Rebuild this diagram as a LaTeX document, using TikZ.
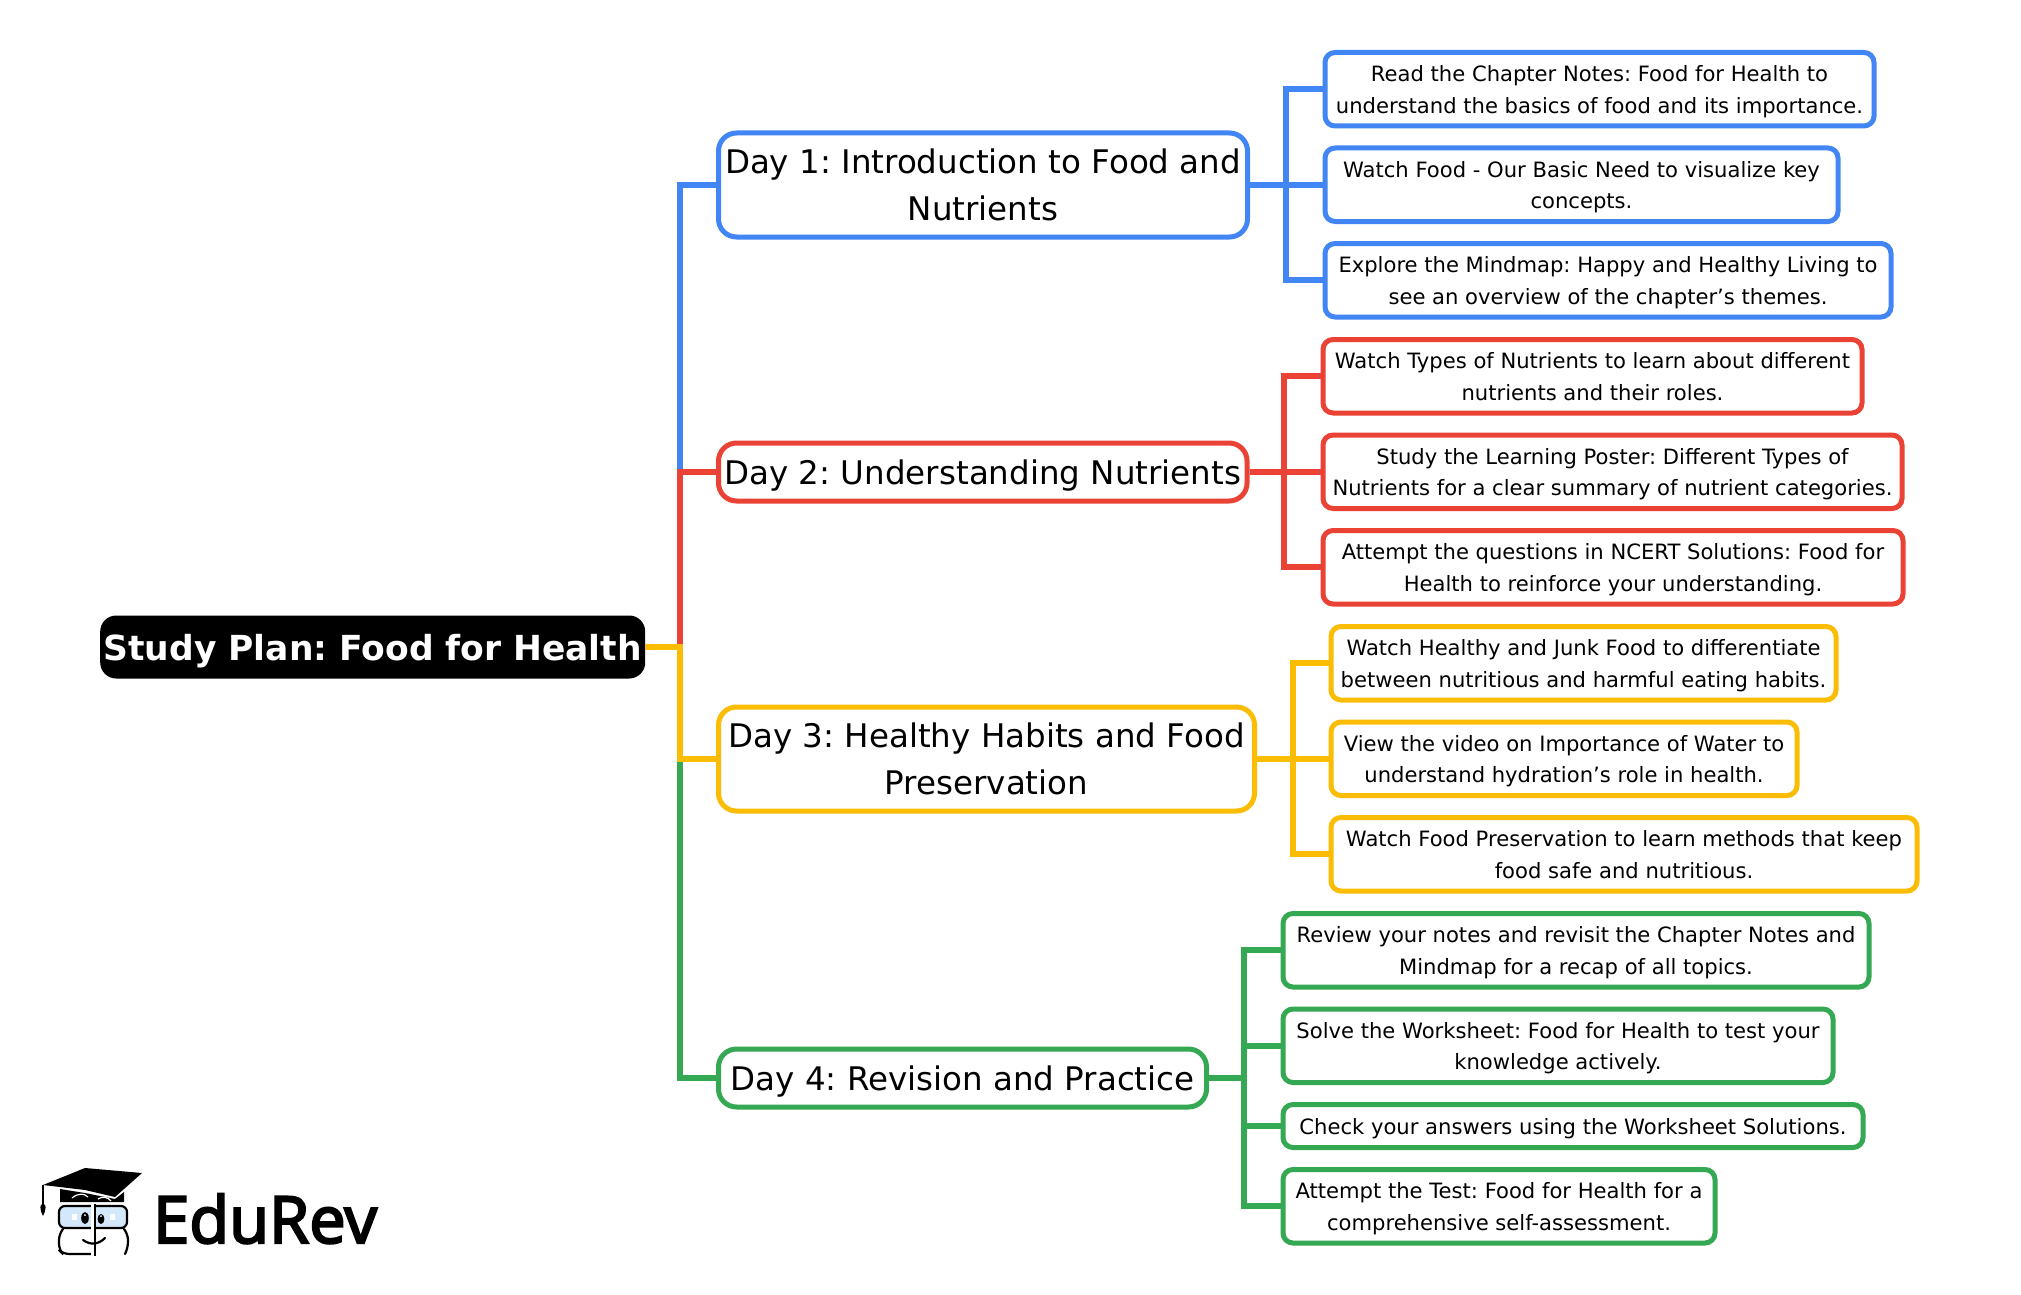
\documentclass[tikz,border=0pt]{standalone}
\usepackage{fontspec}
\setmainfont{DejaVu Sans}
\newfontfamily\logofont[FakeBold=3.4]{Open Sans}
\usetikzlibrary{positioning}
\definecolor{planblue}{HTML}{4285F4}
\definecolor{planred}{HTML}{EA4335}
\definecolor{planyellow}{HTML}{FBBC04}
\definecolor{plangreen}{HTML}{34A853}
\definecolor{logoblue}{HTML}{D3E8FA}
\tikzset{
  rootbox/.style={fill=black, text=white, rounded corners=16pt, inner xsep=2pt, inner ysep=0pt,
    minimum height=63pt, minimum width=545pt, text depth=0pt, anchor=west,
    font=\frenchspacing\fontsize{34.5}{40}\selectfont\bfseries},
  daybox/.style={draw=#1, fill=white, line width=5pt, rounded corners=18pt, inner xsep=6pt, inner ysep=0pt,
    align=center, anchor=west, minimum height=104pt, font=\frenchspacing\fontsize{32.5}{47}\selectfont},
  singleday/.style={minimum height=58pt, text depth=0pt},
  oneleaf/.style={draw=#1, fill=white, line width=5pt, rounded corners=10pt, inner xsep=6pt, inner ysep=0pt,
    align=center, minimum height=43pt, text depth=0pt, font=\frenchspacing\fontsize{21.1}{31.5}\selectfont},
  leafbox/.style={oneleaf=#1, minimum height=73.5pt, execute at begin node={\rule{0pt}{47.5pt}}},
  branch/.style={draw=#1, line width=6pt},
  logoline/.style={line width=2.2pt, line cap=round}
}
\begin{document}
\begin{tikzpicture}[x=1pt, y=-1pt]
        \useasboundingbox (0,0) rectangle (2021,1295);

        \coordinate (spine) at (680,646);
        \coordinate (fork1) at (1286,185);
        \coordinate (fork2) at (1284,472);
        \coordinate (fork3) at (1293,759);
        \coordinate (fork4) at (1244,1078);

        \node (root) [rootbox] at (100,647) {Study Plan: Food for Health};
        \node (day1) [daybox=planblue, minimum width=529pt] at (716,185) {Day 1: Introduction to Food and\\Nutrients};
        \node (day2) [daybox=planred, singleday, minimum width=528pt] at (716,472) {Day 2: Understanding Nutrients};
        \node (day3) [daybox=planyellow, minimum width=536pt] at (716,759) {Day 3: Healthy Habits and Food\\Preservation};
        \node (day4) [daybox=plangreen, singleday, minimum width=488pt] at (716,1078) {Day 4: Revision and Practice};

        \node (leaf11) [leafbox=planblue, minimum width=549pt, anchor=north west] at (1322.5,50) {Read the Chapter Notes: Food for Health to\\understand the basics of food and its importance.};
        \node (leaf12) [leafbox=planblue, minimum width=513pt, below right=17pt and 0pt of leaf11.south west] {Watch Food - Our Basic Need to visualize key\\concepts.};
        \node (leaf13) [leafbox=planblue, minimum width=566pt, below right=17pt and 0pt of leaf12.south west] {Explore the Mindmap: Happy and Healthy Living to\\see an overview of the chapter’s themes.};

        \node (leaf21) [leafbox=planred, minimum width=539pt, anchor=north west] at (1320.5,337) {Watch Types of Nutrients to learn about different\\nutrients and their roles.};
        \node (leaf22) [leafbox=planred, minimum width=579pt, below right=17pt and 0pt of leaf21.south west] {Study the Learning Poster: Different Types of\\Nutrients for a clear summary of nutrient categories.};
        \node (leaf23) [leafbox=planred, minimum width=580pt, below right=17pt and 0pt of leaf22.south west] {Attempt the questions in NCERT Solutions: Food for\\Health to reinforce your understanding.};

        \node (leaf31) [leafbox=planyellow, minimum width=505pt, anchor=north west] at (1328.5,624) {Watch Healthy and Junk Food to differentiate\\between nutritious and harmful eating habits.};
        \node (leaf32) [leafbox=planyellow, minimum width=466pt, below right=17pt and 0pt of leaf31.south west] {View the video on Importance of Water to\\understand hydration’s role in health.};
        \node (leaf33) [leafbox=planyellow, minimum width=586pt, below right=17pt and 0pt of leaf32.south west] {Watch Food Preservation to learn methods that keep\\food safe and nutritious.};

        \node (leaf41) [leafbox=plangreen, minimum width=586pt, anchor=north west] at (1280.5,911) {Review your notes and revisit the Chapter Notes and\\Mindmap for a recap of all topics.};
        \node (leaf42) [leafbox=plangreen, minimum width=550pt, below right=17pt and 0pt of leaf41.south west] {Solve the Worksheet: Food for Health to test your\\knowledge actively.};
        \node (leaf43) [oneleaf=plangreen, minimum width=580pt, below right=17pt and 0pt of leaf42.south west] {Check your answers using the Worksheet Solutions.};
        \node (leaf44) [leafbox=plangreen, minimum width=432pt, below right=17pt and 0pt of leaf43.south west] {Attempt the Test: Food for Health for a\\comprehensive self-assessment.};

        \draw [branch=planblue] (root.east) -- (spine |- root.east) |- (day1.west);
        \draw [branch=planred] (root.east) -- (spine |- root.east) |- (day2.west);
        \draw [branch=plangreen] (root.east) -- (spine |- root.east) |- (day4.west);
        \draw [branch=planyellow] (root.east) -- (spine |- root.east) |- (day3.west);

        \foreach \leaf in {leaf11,leaf12,leaf13}
          \draw [branch=planblue] (day1.east) -- (fork1) |- (\leaf.west);
        \foreach \leaf in {leaf21,leaf22,leaf23}
          \draw [branch=planred] (day2.east) -- (fork2) |- (\leaf.west);
        \foreach \leaf in {leaf31,leaf32,leaf33}
          \draw [branch=planyellow] (day3.east) -- (fork3) |- (\leaf.west);
        \foreach \leaf in {leaf41,leaf42,leaf43,leaf44}
          \draw [branch=plangreen] (day4.east) -- (fork4) |- (\leaf.west);

%%         logo
        \node (logotext) [anchor=base west, inner sep=0pt, font=\fontsize{65}{65}\logofont] at (153,1243) {EduRev};
        \fill (85,1168) -- (142,1173) -- (115,1197) -- (85,1190) -- (60,1187) -- (43,1185) -- cycle;
        \fill (60,1189) -- (85,1193) -- (115,1199) -- (124,1192) -- (124,1202) -- (60,1202) -- cycle;
        \draw [line width=1.5pt] (43,1185) -- (43,1206);
        \fill (43,1216) .. controls (39,1208) and (40,1204) .. (43,1204) .. controls (46,1204) and (47,1208) .. (43,1216) -- cycle;
        \draw [logoline, fill=logoblue, rounded corners=6pt] (59,1206) rectangle (127,1228);
        \draw [logoline, rounded corners=6pt] (91,1254) -- (63,1254) -- (59,1250) -- (59,1234) -- (63,1229);
        \draw [logoline, rounded corners=6pt] (125,1254) -- (128,1248) -- (128,1234) -- (124,1229);
        \draw [white, line width=3pt] (92,1203) -- (92,1256);
        \draw [line width=2pt] (94.5,1204) -- (94.5,1256);
        \fill (85,1218) ellipse (3.8pt and 6pt);
        \fill (101,1219) ellipse (3.4pt and 5pt);
        \fill [white] (85,1215) circle (1pt) (101,1216) circle (1pt);
        \fill [white] (72,1214) rectangle (77,1220) (110,1214) rectangle (115,1220);
        \draw [logoline] (83,1240) .. controls (90,1245) and (98,1245) .. (105,1238);
        \draw [white, line width=1.2pt] (72,1198) .. controls (78,1193) and (84,1193) .. (88,1197) (98,1199) .. controls (102,1196) and (108,1197) .. (111,1201);
\end{tikzpicture}
\end{document}
